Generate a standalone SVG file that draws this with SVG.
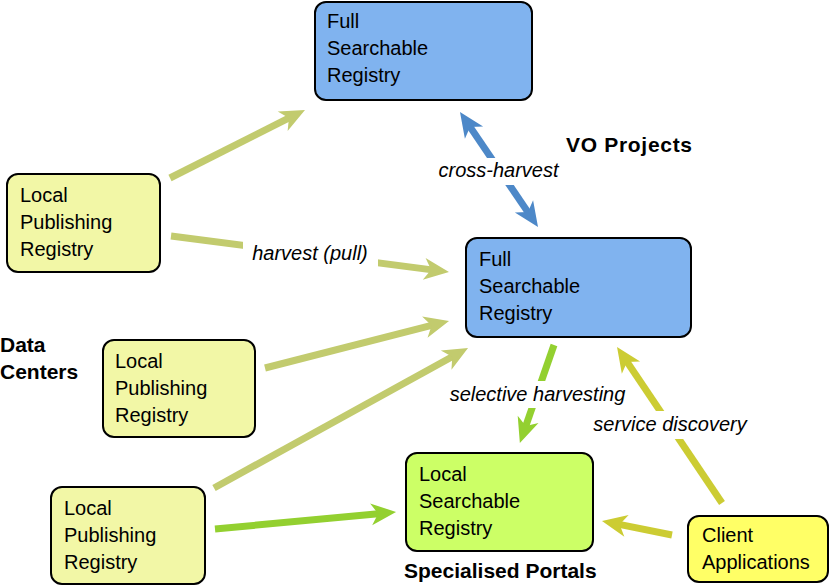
<svg xmlns="http://www.w3.org/2000/svg" width="830" height="587" viewBox="0 0 830 587">
<style>
  .box { stroke: #000; stroke-width: 2; }
  .fsr { fill: #80b3ef; }
  .lpr { fill: #f2f7a6; }
  .lsr { fill: #ccff66; }
  .cli { fill: #ffff66; }
  .t { font-family: "Liberation Sans", Arial, sans-serif; font-size: 20px; fill: #000; }
  .lbl { font-family: "Liberation Sans", Arial, sans-serif; font-size: 20px; font-style: italic; fill: #000; text-anchor: middle; }
  .hdr { font-family: "Liberation Sans", Arial, sans-serif; font-size: 21px; font-weight: bold; fill: #000; }
  .a { fill: none; stroke-width: 7; }
  .olive { stroke: #c2cb6e; }
  .blue { stroke: #4d88c8; }
  .green { stroke: #93d030; }
  .yel { stroke: #cccc33; }
</style>
<defs>
  <marker id="mOlive" viewBox="-12 -12 30 24" refX="0" refY="0" markerWidth="30" markerHeight="24" markerUnits="userSpaceOnUse" orient="auto">
    <path d="M-10,-11 L15,0 L-10,11 L-3,0 Z" fill="#c2cb6e"/>
  </marker>
  <marker id="mBlue" viewBox="-12 -12 30 24" refX="0" refY="0" markerWidth="30" markerHeight="24" markerUnits="userSpaceOnUse" orient="auto-start-reverse">
    <path d="M-10,-11 L15,0 L-10,11 L-3,0 Z" fill="#4d88c8"/>
  </marker>
  <marker id="mGreen" viewBox="-12 -12 30 24" refX="0" refY="0" markerWidth="30" markerHeight="24" markerUnits="userSpaceOnUse" orient="auto">
    <path d="M-10,-11 L15,0 L-10,11 L-3,0 Z" fill="#93d030"/>
  </marker>
  <marker id="mYel" viewBox="-12 -12 30 24" refX="0" refY="0" markerWidth="30" markerHeight="24" markerUnits="userSpaceOnUse" orient="auto">
    <path d="M-10,-11 L15,0 L-10,11 L-3,0 Z" fill="#cccc33"/>
  </marker>
</defs>

<g id="connectors">
  <line class="a olive" x1="170" y1="178" x2="291.6" y2="116.7" marker-end="url(#mOlive)"/>
  <line class="a olive" x1="171" y1="236" x2="434.1" y2="270.1" marker-end="url(#mOlive)"/>
  <line class="a olive" x1="265" y1="368" x2="434.5" y2="324.7" marker-end="url(#mOlive)"/>
  <line class="a olive" x1="214" y1="488" x2="454.9" y2="355.2" marker-end="url(#mOlive)"/>
  <line class="a green" x1="215" y1="529" x2="381.1" y2="513.4" marker-end="url(#mGreen)"/>
  <line class="a blue" x1="468.4" y1="124.4" x2="529.6" y2="214.6" marker-start="url(#mBlue)" marker-end="url(#mBlue)"/>
  <line class="a green" x1="554" y1="345" x2="524.8" y2="428.8" marker-end="url(#mGreen)"/>
  <line class="a yel" x1="722" y1="503" x2="625.4" y2="359.4" marker-end="url(#mYel)"/>
  <line class="a yel" x1="672" y1="535" x2="616.7" y2="523.9" marker-end="url(#mYel)"/>

  <rect x="434" y="158" width="128" height="27" fill="#fff"/>
  <text class="lbl" x="498.5" y="177">cross-harvest</text>
  <rect x="243" y="240" width="135" height="28" fill="#fff"/>
  <text class="lbl" x="310" y="260">harvest (pull)</text>
  <rect x="443" y="381" width="190" height="27" fill="#fff"/>
  <text class="lbl" x="537.5" y="401">selective harvesting</text>
  <rect x="588" y="411" width="164" height="28" fill="#fff"/>
  <text class="lbl" x="670" y="431">service discovery</text>
</g>

<g id="fsr-top">
  <rect class="box fsr" x="315" y="2" width="217" height="98" rx="11"/>
  <text class="t" x="327" y="28">Full</text>
  <text class="t" x="327" y="55">Searchable</text>
  <text class="t" x="327" y="82">Registry</text>
</g>
<g id="fsr-mid">
  <rect class="box fsr" x="466" y="238" width="225" height="99" rx="11"/>
  <text class="t" x="479" y="266">Full</text>
  <text class="t" x="479" y="293">Searchable</text>
  <text class="t" x="479" y="320">Registry</text>
</g>
<g id="lpr1">
  <rect class="box lpr" x="7" y="174" width="153" height="98" rx="11"/>
  <text class="t" x="20" y="202">Local</text>
  <text class="t" x="20" y="229">Publishing</text>
  <text class="t" x="20" y="256">Registry</text>
</g>
<g id="lpr2">
  <rect class="box lpr" x="103" y="340" width="152" height="97" rx="11"/>
  <text class="t" x="115" y="368">Local</text>
  <text class="t" x="115" y="395">Publishing</text>
  <text class="t" x="115" y="422">Registry</text>
</g>
<g id="lpr3">
  <rect class="box lpr" x="51" y="487" width="154" height="97" rx="11"/>
  <text class="t" x="64" y="515">Local</text>
  <text class="t" x="64" y="542">Publishing</text>
  <text class="t" x="64" y="569">Registry</text>
</g>
<g id="lsr">
  <rect class="box lsr" x="406" y="453" width="187" height="98" rx="11"/>
  <text class="t" x="419" y="481">Local</text>
  <text class="t" x="419" y="508">Searchable</text>
  <text class="t" x="419" y="535">Registry</text>
</g>
<g id="client">
  <rect class="box cli" x="688" y="516" width="140" height="66" rx="11"/>
  <text class="t" x="702" y="542">Client</text>
  <text class="t" x="702" y="569">Applications</text>
</g>

<g id="group-labels">
  <text class="hdr" x="566" y="152" textLength="126" lengthAdjust="spacing">VO Projects</text>
  <text class="hdr" x="0" y="352">Data</text>
  <text class="hdr" x="0" y="379">Centers</text>
  <text class="hdr" x="404" y="578">Specialised Portals</text>
</g>
</svg>
